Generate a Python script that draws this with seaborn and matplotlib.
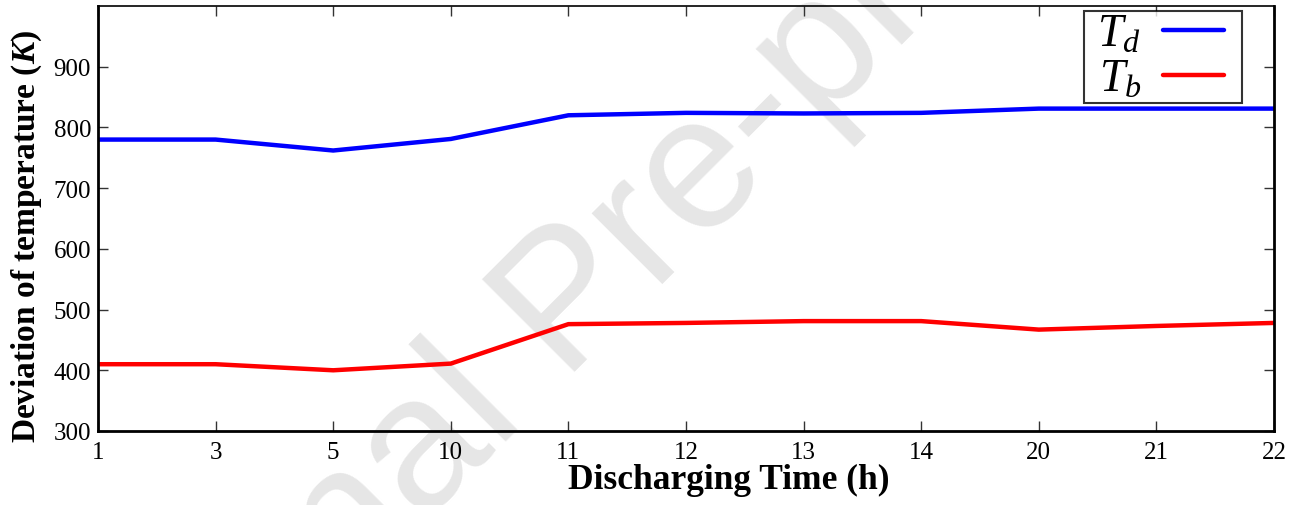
import matplotlib
matplotlib.use("Agg")
import matplotlib.pyplot as plt
from matplotlib.lines import Line2D
from matplotlib.legend_handler import HandlerLine2D
import seaborn as sns
import pandas as pd

hours = ["1", "3", "5", "10", "11", "12", "13", "14", "20", "21", "22"]
t_d = [780, 780, 762, 781, 820, 824, 823, 824, 831, 831, 831]
t_b = [410, 410, 400, 411, 476, 478, 481, 481, 467, 473, 478]

sns.set_theme(style="white")
plt.rcParams['font.family'] = ['Liberation Serif', 'DejaVu Serif']
plt.rcParams['mathtext.fontset'] = 'custom'
plt.rcParams['mathtext.rm'] = 'Liberation Serif'
plt.rcParams['mathtext.it'] = 'Liberation Serif:italic'
plt.rcParams['mathtext.bf'] = 'Liberation Serif:bold:italic'
plt.rcParams['text.color'] = 'black'
plt.rcParams['axes.labelcolor'] = 'black'


class ShortLineHandler(HandlerLine2D):
    """Line handle that leaves some room at its right end."""

    def create_artists(self, legend, orig_handle, xdescent, ydescent, width,
                       height, fontsize, trans):
        return super().create_artists(legend, orig_handle, xdescent, ydescent,
                                      width - 0.35 * fontsize, height,
                                      fontsize, trans)


df = pd.DataFrame({
    "hour": hours * 2,
    "value": t_d + t_b,
    "series": [r"$\ T_d$"] * len(hours) + [r"$\ T_b$"] * len(hours),
})

fig = plt.figure(figsize=(13.1, 5.06), dpi=100)
ax = fig.add_axes([98 / 1310, 1 - 432 / 506, (1274 - 98) / 1310, (432 - 7) / 506])

fig.text(0.4359, 0.3933, "Journal Pre-proof", fontsize=137, color="#e6e6e6",
         family="Liberation Sans", rotation=45, ha="center", va="center",
         zorder=-1)
ax.set_facecolor("none")

sns.lineplot(data=df, x="hour", y="value", hue="series", sort=False,
             palette={r"$\ T_d$": "#0000ff", r"$\ T_b$": "#ff0000"},
             linewidth=3.2, ax=ax)

ax.set_xlim(0, len(hours) - 1)
ax.set_ylim(300, 1000)
ax.set_yticks([300, 400, 500, 600, 700, 800, 900])
ax.set_xticks(range(len(hours)))
ax.set_xticklabels(hours)
ax.tick_params(direction="in", length=7, width=1, labelsize=18, colors="#333333",
               top=True, right=True, bottom=True, left=True)
ax.tick_params(axis="x", pad=7)
ax.tick_params(axis="y", pad=5)
ax.tick_params(labelcolor="black")
for side in ["left", "bottom", "right"]:
    ax.spines[side].set_linewidth(2)
    ax.spines[side].set_color("black")
ax.spines["top"].set_linewidth(1.2)
ax.spines["top"].set_color("black")

ax.set_xlabel("Discharging Time (h)", fontsize=25.5, fontweight="bold")
ax.xaxis.set_label_coords(0.536, -0.075)
ax.set_ylabel(r"Deviation of temperature ($\mathbf{K}$)", fontsize=24,
              fontweight="bold")
ax.yaxis.set_label_coords(-0.046, 0.459)

leg = ax.legend(loc="upper right", bbox_to_anchor=(0.9728, 0.988), fontsize=33,
                frameon=True, fancybox=False, edgecolor="black",
                handlelength=1.68, handletextpad=0.47, borderpad=0.05,
                borderaxespad=0, labelspacing=0.05, markerfirst=False,
                handler_map={Line2D: ShortLineHandler()})
leg.get_frame().set_linewidth(1.5)

fig.savefig("out.png", dpi=100)
